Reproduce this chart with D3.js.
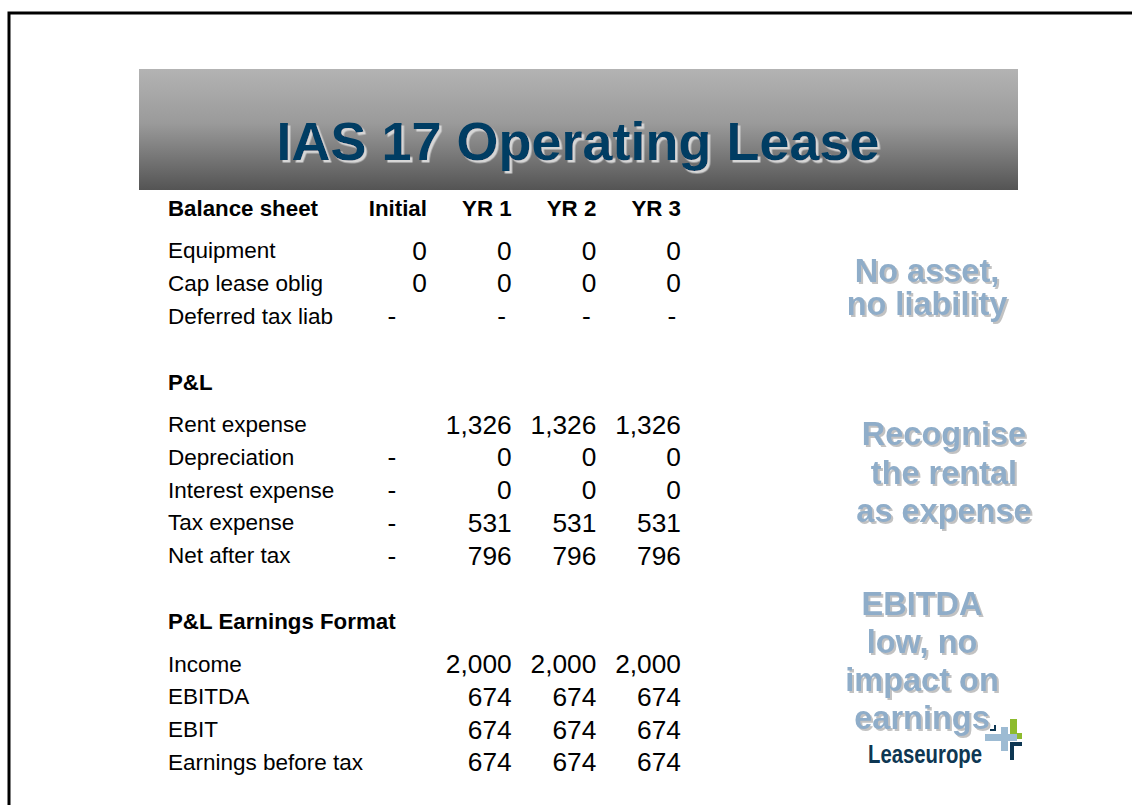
<!DOCTYPE html>
<html>
<head>
<meta charset="utf-8">
<script src="https://cdn.jsdelivr.net/npm/d3@7/dist/d3.min.js"></script>
<style>
  html, body { margin: 0; padding: 0; background: #ffffff; }
  svg { display: block; }
  text { font-family: "Liberation Sans", Arial, sans-serif; }
</style>
</head>
<body>
<svg id="chart" width="1132" height="805"></svg>
<script>
// ---------- data ----------
const title = "IAS 17 Operating Lease";
const columns = ["Initial", "YR 1", "YR 2", "YR 3"];

const sectionTitles = ["Balance sheet", "P&L", "P&L Earnings Format"];

const balanceLabels = ["Equipment", "Cap lease oblig", "Deferred tax liab"];
const balanceValues = [
  [0, 0, 0, 0],
  [0, 0, 0, 0],
  ["-", "-", "-", "-"]
];

const plLabels = ["Rent expense", "Depreciation", "Interest expense", "Tax expense", "Net after tax"];
const plValues = [
  ["", 1326, 1326, 1326],
  ["-", 0, 0, 0],
  ["-", 0, 0, 0],
  ["-", 531, 531, 531],
  ["-", 796, 796, 796]
];

const earningsLabels = ["Income", "EBITDA", "EBIT", "Earnings before tax"];
const earningsValues = [
  ["", 2000, 2000, 2000],
  ["", 674, 674, 674],
  ["", 674, 674, 674],
  ["", 674, 674, 674]
];

const noteLines1 = ["No asset,", "no liability"];
const noteLines2 = ["Recognise", "the rental", "as expense"];
const noteLines3 = ["EBITDA", "low, no", "impact on", "earnings"];

const brand = "Leaseurope";

// ---------- layout ----------
const svg = d3.select("#chart");
const W = 1132, H = 805;
const defs = svg.append("defs");

function shadowFilter(id, dx, dy, color) {
  const f = defs.append("filter").attr("id", id)
    .attr("x", "-10%").attr("y", "-20%").attr("width", "130%").attr("height", "150%");
  f.append("feDropShadow").attr("dx", dx).attr("dy", dy).attr("stdDeviation", 0.4)
    .attr("flood-color", color).attr("flood-opacity", 1);
}
shadowFilter("titleShadow", 2.5, 2.5, "#d6d6d6");
shadowFilter("noteShadow", 2, 2, "#c2c2c2");

// frame border (slide edge)
svg.append("path")
  .attr("d", `M9,${H} V13 H${W}`)
  .attr("fill", "none")
  .attr("stroke", "#000")
  .attr("stroke-width", 3);

// header banner gradient
const grad = defs.append("linearGradient").attr("id", "bannerGrad")
  .attr("x1", 0).attr("y1", 0).attr("x2", 0).attr("y2", 1);
grad.append("stop").attr("offset", "0%").attr("stop-color", "#b3b3b3");
grad.append("stop").attr("offset", "45%").attr("stop-color", "#9a9a9a");
grad.append("stop").attr("offset", "100%").attr("stop-color", "#545454");

svg.append("rect")
  .attr("x", 139).attr("y", 69).attr("width", 879).attr("height", 121)
  .attr("fill", "url(#bannerGrad)");

svg.append("text")
  .attr("x", 578).attr("y", 160)
  .attr("text-anchor", "middle")
  .attr("font-size", 54).attr("font-weight", "bold")
  .attr("fill", "#063d64")
  .attr("filter", "url(#titleShadow)")
  .text(title);

// ---------- table ----------
const x = d3.scaleBand().domain(columns).range([342.3, 681]).padding(0);
const colRight = c => x(c) + x.bandwidth();
const dashOffset = { "Initial": 35, "YR 1": 10, "YR 2": 10, "YR 3": 9 };

// line units -> pixel centre
const y = d3.scaleLinear().domain([0, 1]).range([208.5, 241.25]);

const sections = [
  { title: sectionTitles[0], labels: balanceLabels, values: balanceValues, showCols: true },
  { title: sectionTitles[1], labels: plLabels, values: plValues, showCols: false },
  { title: sectionTitles[2], labels: earningsLabels, values: earningsValues, showCols: false }
];

let u = 0;
const fmt = d3.format(",");
const labelX = 168;
const table = svg.append("g");

sections.forEach(sec => {
  const hy = y(u);
  table.append("text")
    .attr("x", labelX).attr("y", hy + 7.5)
    .attr("font-size", 22.3).attr("font-weight", "bold").attr("fill", "#000")
    .text(sec.title);
  if (sec.showCols) {
    table.selectAll(null).data(columns).enter().append("text")
      .attr("x", d => colRight(d)).attr("y", hy + 7.5)
      .attr("text-anchor", "end")
      .attr("font-size", 22.3).attr("font-weight", "bold").attr("fill", "#000")
      .text(d => d);
  }
  u += 1.29;
  sec.labels.forEach((lab, i) => {
    const ry = y(u);
    table.append("text")
      .attr("x", labelX).attr("y", ry + 7.5)
      .attr("font-size", 22.5).attr("fill", "#000")
      .text(lab);
    const vals = sec.values[i];
    table.selectAll(null).data(columns.map((c, j) => ({ c, v: vals[j] }))).enter()
      .append("text")
      .filter(d => d.v !== "")
      .attr("x", d => d.v === "-" ? colRight(d.c) - dashOffset[d.c] : colRight(d.c))
      .attr("y", ry + 9)
      .attr("text-anchor", d => d.v === "-" ? "middle" : "end")
      .attr("font-size", 26.3).attr("fill", "#000")
      .text(d => d.v === "-" ? "-" : fmt(d.v));
    u += 1;
  });
  u += 1.02;
});

// ---------- side notes ----------
const notes = [
  { lines: noteLines1, cx: 927, first: 282, gap: 33 },
  { lines: noteLines2, cx: 944, first: 445, gap: 38.5 },
  { lines: noteLines3, cx: 922, first: 615, gap: 38 }
];
const noteG = svg.append("g");
notes.forEach(n => {
  noteG.selectAll(null).data(n.lines).enter().append("text")
    .attr("x", n.cx).attr("y", (d, i) => n.first + i * n.gap)
    .attr("text-anchor", "middle")
    .attr("font-size", 32.5).attr("font-weight", "bold")
    .attr("fill", "#8fadc9")
    .attr("filter", "url(#noteShadow)")
    .text(d => d);
});

// ---------- logo ----------
const logo = svg.append("g");
logo.append("text")
  .attr("x", 868).attr("y", 763)
  .attr("font-size", 26).attr("font-weight", "bold")
  .attr("fill", "#0e3753")
  .attr("textLength", 114).attr("lengthAdjust", "spacingAndGlyphs")
  .text(brand);
// plus mark
logo.append("rect").attr("x", 1010).attr("y", 719).attr("width", 7).attr("height", 19).attr("fill", "#8dbb2e");
logo.append("rect").attr("x", 1010).attr("y", 733).attr("width", 12).attr("height", 6).attr("fill", "#8dbb2e");
logo.append("rect").attr("x", 985).attr("y", 734).attr("width", 32).attr("height", 7).attr("fill", "#9dbbd3");
logo.append("rect").attr("x", 1001).attr("y", 727).attr("width", 7).attr("height", 24).attr("fill", "#9dbbd3");
logo.append("path").attr("d", "M1010,760 V742 H1022 V746 H1014 V760 Z").attr("fill", "#0e3753");
logo.append("path").attr("d", "M990,731 H996 V725 H994 V729 H990 Z").attr("fill", "#0e3753");
</script>
</body>
</html>
